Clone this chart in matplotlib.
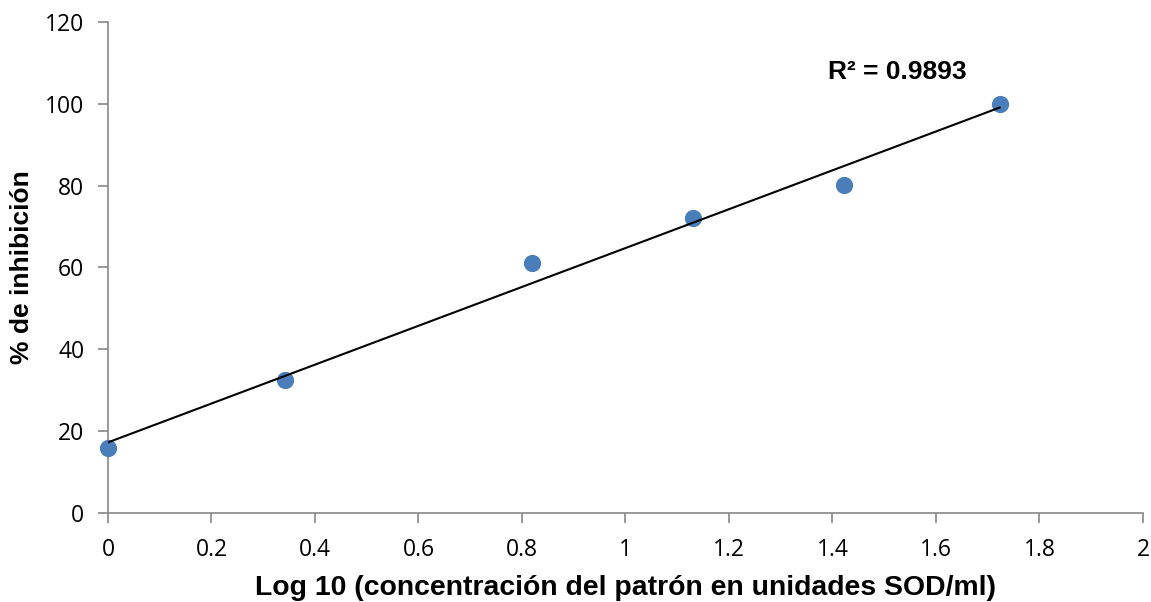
import matplotlib
matplotlib.use("Agg")
import matplotlib.pyplot as plt
import numpy as np

plt.rcParams["font.family"] = ["Open Sans", "DejaVu Sans"]
plt.rcParams["xtick.labelsize"] = 16.5
plt.rcParams["ytick.labelsize"] = 16.5

# datos
log_conc = [0, 0.342, 0.82, 1.13, 1.423, 1.723]
inhibicion = [15.8, 32.6, 61.2, 72.0, 80.2, 100.0]
x_ticks = [0, 0.2, 0.4, 0.6, 0.8, 1, 1.2, 1.4, 1.6, 1.8, 2]
y_ticks = [0, 20, 40, 60, 80, 100, 120]
r2_text = "R² = 0.9893"

fig = plt.figure(figsize=(11.51, 6.02), dpi=100)
ax = fig.add_axes([0.0938, 0.1478, 0.8992, 0.8157])

ax.scatter(log_conc, inhibicion, s=130, color="#4a7ebb", zorder=3, clip_on=False)

# linea de tendencia
m, b = np.polyfit(log_conc, inhibicion, 1)
xl = np.array([min(log_conc), max(log_conc)])
ax.plot(xl, m * xl + b, color="black", lw=1.5, zorder=4)

ax.text(1.391, 107.8, r2_text, fontsize=19, fontweight="bold",
        family="Liberation Sans", va="center", ha="left")

ax.set_xlim(0, 2)
ax.set_ylim(0, 120)
ax.set_xticks(x_ticks)
ax.set_xticklabels([f"{v:g}" for v in x_ticks])
ax.set_yticks(y_ticks)

for s in ["top", "right"]:
    ax.spines[s].set_visible(False)
for s in ["left", "bottom"]:
    ax.spines[s].set_color("#888888")
    ax.spines[s].set_linewidth(1.2)
ax.tick_params(colors="#888888", length=7, width=1.2, labelcolor="black")
ax.tick_params(axis="x", pad=11)
ax.tick_params(axis="y", pad=10)

ax.set_xlabel("Log 10 (concentración del patrón en unidades SOD/ml)",
              fontsize=20.4, fontweight="bold", family="Liberation Sans", labelpad=9)
ax.set_ylabel("% de inhibición", fontsize=19, fontweight="bold",
              family="Liberation Sans", labelpad=8)

fig.savefig("out.png", dpi=100)
